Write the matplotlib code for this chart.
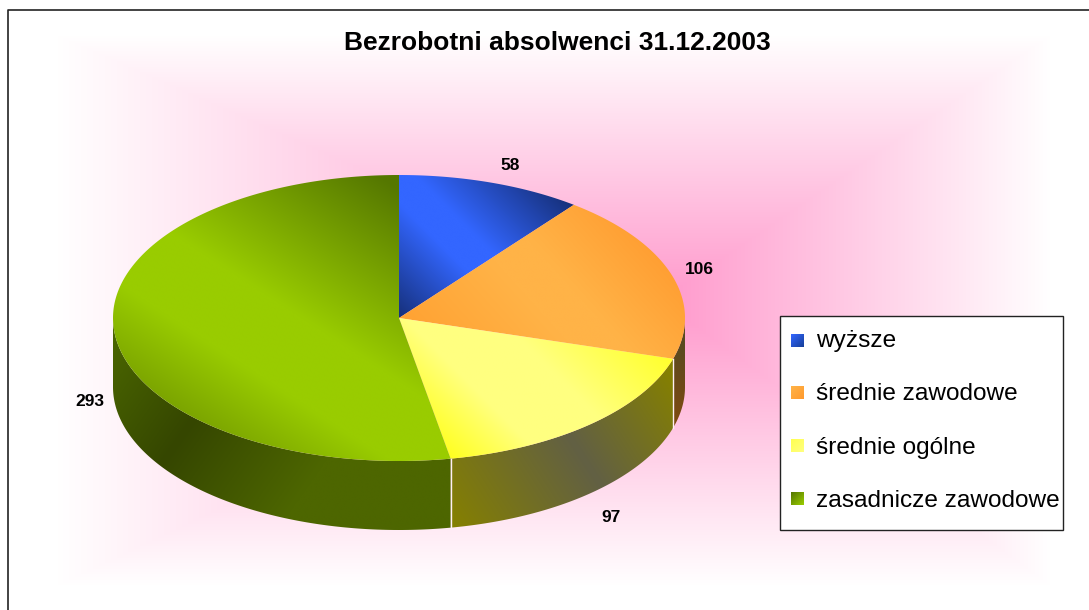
import numpy as np
import matplotlib
matplotlib.use('Agg')
import matplotlib.pyplot as plt
from matplotlib.patches import Polygon, Rectangle
from matplotlib.colors import to_rgb

plt.rcParams['font.family'] = ['Liberation Sans', 'DejaVu Sans']

title = 'Bezrobotni absolwenci 31.12.2003'
categories = ['wyższe', 'średnie zawodowe', 'średnie ogólne', 'zasadnicze zawodowe']
values = [58, 106, 97, 293]

W, H = 1089, 610
CX, CY, RX, RY, DEPTH = 399, 318, 286, 143, 69

# gradient for every slice: start point, end point, stops
top_grad = [
    ((399, 318), (543, 174), [(0, '#16307a'), (0.4, '#3366ff'), (0.55, '#3366ff'), (1, '#16307a')]),
    ((420, 360), (620, 180), [(0, '#ffa030'), (0.45, '#ffb347'), (0.6, '#ffb347'), (1, '#ff9a2e')]),
    ((450, 458), (607, 300), [(0, '#ffff20'), (0.3, '#ffff80'), (0.6, '#ffff80'), (1, '#ffff30')]),
    ((206, 491), (402, 190), [(0, '#668800'), (0.35, '#99cc00'), (0.55, '#99cc00'), (1, '#557700')]),
]
side_grad = [
    None,
    ((680, 345), (675, 425), [(0, '#5a4a20'), (1, '#804a10')]),
    ((448, 520), (673, 375), [(0, '#858000'), (0.55, '#626044'), (1, '#858000')]),
    ((120, 300), (448, 530), [(0, '#4d6a00'), (0.32, '#354600'), (0.65, '#4d6600'), (1, '#4d6600')]),
]
swatch_grad = [
    ['#16409a', '#3366ff'],
    ['#ff9a2e', '#ffb347'],
    ['#ffff80', '#ffff50'],
    ['#99cc00', '#557700'],
]
label_pos = [(510, 165), (699, 270), (611, 517), (90, 402)]
swatch_y = [340, 392, 445, 498]
legend_y = [341, 394, 448, 501]


def rim(a0, a1, n=200):
    t = np.radians(np.linspace(a0, a1, n))
    return np.c_[CX + RX * np.sin(t), CY - RY * np.cos(t)]


def lin_fill(ax, pts, p0, p1, stops):
    x0, x1 = pts[:, 0].min() - 1, pts[:, 0].max() + 1
    y0, y1 = pts[:, 1].min() - 1, pts[:, 1].max() + 1
    xx, yy = np.meshgrid(np.linspace(x0, x1, 400), np.linspace(y0, y1, 400))
    d = np.array(p1, float) - np.array(p0, float)
    s = np.clip(((xx - p0[0]) * d[0] + (yy - p0[1]) * d[1]) / (d @ d), 0, 1)
    pos = [p for p, c in stops]
    rgb = np.array([to_rgb(c) for p, c in stops])
    img = np.dstack([np.interp(s, pos, rgb[:, i]) for i in range(3)])
    im = ax.imshow(img, extent=(x0, x1, y1, y0), aspect='auto', zorder=3)
    im.set_clip_path(Polygon(pts, closed=True, transform=ax.transData))


fig = plt.figure(figsize=(W / 100, H / 100), dpi=100)
ax = fig.add_axes([0, 0, 1, 1])

# pink background, rectangular gradient around a point right of the pie
xx, yy = np.meshgrid(np.arange(W), np.arange(H))
dx = np.where(xx < 660, (660 - xx) / 603, (xx - 660) / 390)
dy = np.where(yy < 300, (300 - yy) / 265, (yy - 300) / 285)
f = np.clip(1 - np.maximum(dx, dy), 0, 1)
bg = np.dstack([np.ones_like(f), 1 - f * 0.4, 1 - f * 0.2])
ax.imshow(bg, extent=(0, W, H, 0), aspect='auto', zorder=0)

# frame runs off the picture on the right and at the bottom
ax.plot([8, 8, W + 5], [H + 5, 10, 10], color='#222222', lw=1.2, zorder=1)

cuts = np.cumsum([0] + values) / sum(values) * 360

# sides
for i in range(len(values)):
    a0, a1 = max(cuts[i], 90), min(cuts[i + 1], 270)
    if a1 <= a0 or side_grad[i] is None:
        continue
    edge = rim(a0, a1)
    pts = np.vstack([edge, edge[::-1] + [0, DEPTH]])
    lin_fill(ax, pts, *side_grad[i])

# tops
for i in range(len(values)):
    pts = np.vstack([[CX, CY], rim(cuts[i], cuts[i + 1])])
    lin_fill(ax, pts, *top_grad[i])

# pale lines at the front cuts
for a in cuts[2:4]:
    p = rim(a, a, 1)[0]
    ax.plot([p[0], p[0]], [p[1], p[1] + DEPTH], color='#fff0f5', lw=1, zorder=4)

ax.text(557, 43, title, ha='center', va='center', fontsize=19, fontweight='bold', color='black', zorder=5)

for v, (x, y) in zip(values, label_pos):
    ax.text(x, y, str(v), ha='center', va='center', fontsize=12.5, fontweight='bold', color='black', zorder=5)

# legend
ax.add_patch(Rectangle((780, 316), 283, 214, fc='white', ec='#222222', lw=1, zorder=5))
for name, sy, ly, cols in zip(categories, swatch_y, legend_y, swatch_grad):
    c0, c1 = np.array(to_rgb(cols[0])), np.array(to_rgb(cols[1]))
    gx, gy = np.meshgrid(np.linspace(0, 1, 20), np.linspace(0, 1, 20))
    s = ((gx + gy) / 2)[..., None]
    ax.imshow(c1 + (c0 - c1) * s, extent=(791, 804, sy + 7, sy - 6), aspect='auto', zorder=6)
    ax.text(816, ly, name, ha='left', va='center', fontsize=17.6, color='black', zorder=6)

ax.set_xlim(0, W)
ax.set_ylim(H, 0)
ax.axis('off')
fig.savefig('out.png', dpi=100)
